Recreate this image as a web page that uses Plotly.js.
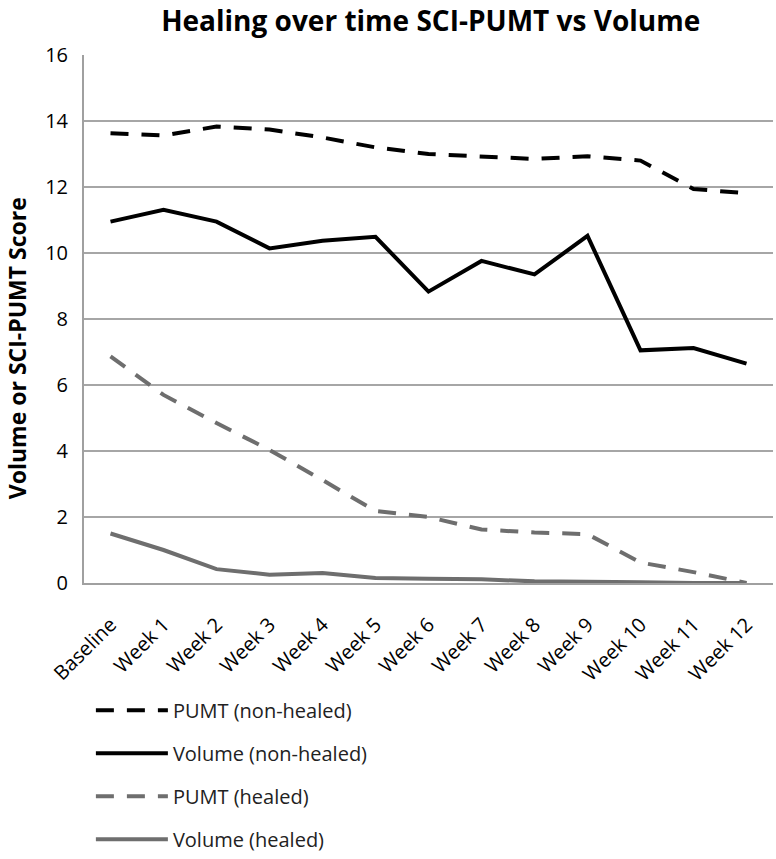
<!DOCTYPE html>
<html>
<head>
<meta charset="utf-8">
<script src="https://cdn.plot.ly/plotly-3.0.1.min.js"></script>
<style>
  body { margin: 0; background: #fff; }
  #chart { width: 776px; height: 859px; }
</style>
</head>
<body>
<div id="chart"></div>
<script>
// ----- data -----
const weeks = ["Baseline", "Week 1", "Week 2", "Week 3", "Week 4", "Week 5", "Week 6",
  "Week 7", "Week 8", "Week 9", "Week 10", "Week 11", "Week 12"];

const pumtNonHealed = [13.63, 13.56, 13.83, 13.74, 13.5, 13.2, 13.0, 12.93, 12.85, 12.93, 12.8, 11.94, 11.81];
const volumeNonHealed = [10.95, 11.31, 10.95, 10.14, 10.37, 10.49, 8.83, 9.76, 9.35, 10.52, 7.05, 7.12, 6.65];
const pumtHealed = [6.87, 5.7, 4.85, 4.03, 3.12, 2.18, 2.0, 1.62, 1.53, 1.48, 0.62, 0.33, 0.0];
const volumeHealed = [1.5, 1.0, 0.42, 0.25, 0.3, 0.15, 0.13, 0.11, 0.05, 0.02, 0.02, 0.0, 0.0];

const seriesNames = ["PUMT (non-healed)", "Volume (non-healed)", "PUMT (healed)", "Volume (healed)"];

const fontFam = "'Open Sans', Lato, sans-serif";
const black = "#000000";
const grey = "#6e6e6e";

function line(y, name, color, dash, group) {
  return {
    x: weeks,
    y: y,
    name: name,
    type: "scatter",
    mode: "lines",
    legendgroup: group,
    line: { color: color, width: 4, dash: dash }
  };
}

const traces = [
  line(pumtNonHealed, seriesNames[0], black, "18px,13px", "a"),
  line(volumeNonHealed, seriesNames[1], black, "solid", "b"),
  line(pumtHealed, seriesNames[2], grey, "18px,13px", "c"),
  line(volumeHealed, seriesNames[3], grey, "solid", "d")
];

const layout = {
  width: 776,
  height: 859,
  paper_bgcolor: "#ffffff",
  plot_bgcolor: "#ffffff",
  font: { family: fontFam, color: "#000" },
  margin: { l: 84, r: 3, t: 55, b: 276 },
  title: {
    text: "<b>Healing over time SCI-PUMT vs Volume</b>",
    font: { size: 28, family: fontFam, color: "#000" },
    x: 0.555,
    xanchor: "center",
    y: 0.975,
    yanchor: "middle"
  },
  xaxis: {
    type: "category",
    range: [-0.5, 12.5],
    tickangle: -45,
    tickfont: { size: 20, family: fontFam },
    ticklabelstandoff: 20,
    showline: true,
    linecolor: "#a0a0a0",
    linewidth: 2,
    showgrid: false,
    ticks: "",
    zeroline: false,
    automargin: false
  },
  yaxis: {
    range: [0, 16],
    dtick: 2,
    tickfont: { size: 20, family: fontFam },
    ticklabelstandoff: 10,
    showline: true,
    linecolor: "#a0a0a0",
    linewidth: 2,
    gridcolor: "#a6a6a6",
    gridwidth: 2,
    zeroline: false,
    ticks: "",
    automargin: false
  },
  // y title placed as in the reference (a bit below the plot's middle)
  annotations: [{
    text: "<b>Volume or SCI-PUMT Score</b>",
    xref: "paper",
    yref: "paper",
    x: -0.097,
    y: 0.445,
    xanchor: "center",
    yanchor: "middle",
    textangle: -90,
    showarrow: false,
    font: { size: 23, family: fontFam, color: "#000" }
  }],
  showlegend: true,
  legend: {
    orientation: "v",
    x: 0.01,
    xanchor: "left",
    yref: "container",
    y: 0.196,
    yanchor: "top",
    traceorder: "grouped",
    tracegroupgap: 14,
    itemwidth: 72,
    font: { size: 20, family: fontFam, color: "#222" },
    bgcolor: "rgba(0,0,0,0)"
  }
};

Plotly.newPlot("chart", traces, layout, { displayModeBar: false });
</script>
</body>
</html>
